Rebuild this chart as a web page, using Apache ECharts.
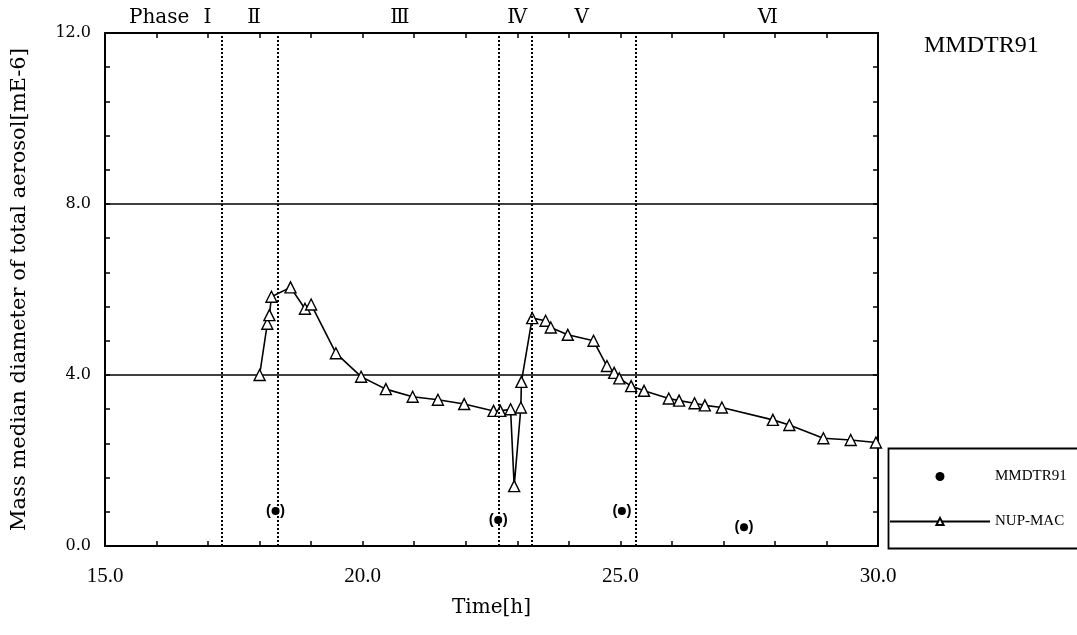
<!DOCTYPE html>
<html>
<head>
<meta charset="utf-8">
<script src="https://cdn.jsdelivr.net/npm/echarts@6/dist/echarts.min.js"></script>
<style>
html,body{margin:0;padding:0;background:#fff;}
#chart{width:1077px;height:635px;}
</style>
</head>
<body>
<div id="chart"></div>
<script>
// ---- data ----
var nupTime  = [18.0, 18.15, 18.19, 18.23, 18.6, 18.88, 19.0, 19.48, 19.97, 20.45, 20.97, 21.46, 21.97, 22.54, 22.67, 22.87, 22.94, 23.07, 23.08, 23.29, 23.55, 23.65, 23.98, 24.48, 24.74, 24.88, 24.98, 25.21, 25.46, 25.94, 26.14, 26.44, 26.64, 26.97, 27.96, 28.28, 28.94, 29.47, 29.96];
var nupValue = [4.0, 5.2, 5.4, 5.83, 6.05, 5.55, 5.65, 4.51, 3.96, 3.67, 3.49, 3.42, 3.32, 3.16, 3.16, 3.2, 1.4, 3.24, 3.84, 5.33, 5.27, 5.11, 4.94, 4.8, 4.21, 4.05, 3.92, 3.74, 3.63, 3.45, 3.4, 3.34, 3.29, 3.24, 2.95, 2.83, 2.52, 2.48, 2.42];
var mmdTime  = [18.31, 22.63, 25.03, 27.4];
var mmdValue = [0.82, 0.61, 0.82, 0.44];
var phaseBounds = [17.26, 18.35, 22.65, 23.28, 25.29];
var phaseLabels = ['Phase', 'Ⅰ', 'Ⅱ', 'Ⅲ', 'Ⅳ', 'Ⅴ', 'Ⅵ'];
var phaseLabelX = [16.05, 16.99, 17.89, 20.72, 23.0, 24.25, 27.86];
var seriesNames = ['MMDTR91', 'NUP-MAC'];
var xRange = [15, 30];
var yRange = [0, 12];

function zip(a, b) { return a.map(function (v, i) { return [v, b[i]]; }); }

var serif = '"DejaVu Serif", serif';
var times = '"Liberation Serif", "Times New Roman", serif';

var chart = echarts.init(document.getElementById('chart'), null, {renderer: 'canvas'});

function xAxisDef(pos, labels) {
  return {
    type: 'value', position: pos, min: xRange[0], max: xRange[1], interval: 5,
    axisLine: {show: true, onZero: false, lineStyle: {color: '#000', width: 2}},
    axisTick: {show: true, inside: true, length: 5, lineStyle: {color: '#000', width: 1.5}},
    minorTick: {show: true, splitNumber: 5, length: 5, lineStyle: {color: '#000', width: 1.5}},
    splitLine: {show: false},
    axisLabel: {show: labels, margin: 20, color: '#000', fontFamily: times, fontSize: 21,
      formatter: function (v) { return v.toFixed(1); }},
    name: labels ? 'Time[h]' : '', nameLocation: 'middle', nameGap: 52,
    nameTextStyle: {color: '#000', fontFamily: serif, fontSize: 20}
  };
}
function yAxisDef(pos, labels) {
  return {
    type: 'value', position: pos, min: yRange[0], max: yRange[1], interval: 4,
    axisLine: {show: true, onZero: false, lineStyle: {color: '#000', width: 2}},
    axisTick: {show: true, inside: true, length: 5, lineStyle: {color: '#000', width: 1.5}},
    minorTick: {show: true, splitNumber: 5, length: 5, lineStyle: {color: '#000', width: 1.5}},
    splitLine: {show: labels, lineStyle: {color: '#000', width: 1.6, type: 'solid'}},
    axisLabel: {show: labels, margin: 14, color: '#000', fontFamily: serif, fontSize: 16,
      formatter: function (v) { return v.toFixed(1); }},
    name: labels ? 'Mass median diameter of total aerosol[mE-6]' : '', nameLocation: 'middle', nameGap: 75,
    nameTextStyle: {color: '#000', fontFamily: serif, fontSize: 21}
  };
}

var option = {
  backgroundColor: '#fff',
  animation: false,
  grid: {left: 105, right: 199, top: 33, bottom: 89, containLabel: false, outerBoundsMode: 'none'},
  title: {
    text: 'MMDTR91', left: 919, top: 29,
    textStyle: {color: '#000', fontFamily: times, fontWeight: 'normal', fontSize: 24}
  },
  xAxis: [xAxisDef('bottom', true), xAxisDef('top', false)],
  yAxis: [yAxisDef('left', true), yAxisDef('right', false)],
  legend: {
    data: seriesNames, orient: 'vertical', left: 884, top: 464,
    itemWidth: 100, itemHeight: 9, itemGap: 30,
    textStyle: {color: '#000', fontFamily: times, fontSize: 15}
  },
  graphic: [{
    type: 'rect', left: 886, top: 446, z: 0,
    shape: {width: 200, height: 100},
    style: {fill: 'none', stroke: '#000', lineWidth: 1.8}
  }],
  series: [
    {
      name: seriesNames[0], type: 'scatter', data: zip(mmdTime, mmdValue),
      symbol: 'circle', symbolSize: 8,
      itemStyle: {color: '#000', opacity: 1},
      label: {show: true, position: 'inside', formatter: '(\u2009\u2009\u2009)', color: '#000',
        fontFamily: '"Liberation Sans", sans-serif', fontWeight: 'bold', fontSize: 15}
    },
    {
      name: seriesNames[1], type: 'line', data: zip(nupTime, nupValue),
      symbol: 'triangle', symbolSize: 11, showAllSymbol: true,
      lineStyle: {color: '#000', width: 1.6},
      itemStyle: {color: '#fff', borderColor: '#000', borderWidth: 1.4},
      markLine: {
        silent: true, symbol: ['none', 'none'], label: {show: false},
        lineStyle: {color: '#000', width: 2, type: [2, 2]},
        data: phaseBounds.map(function (v) { return {xAxis: v}; })
      },
      z: 3
    },
    {
      name: 'phase', type: 'scatter', data: phaseLabelX.map(function (v) { return [v, yRange[1]]; }),
      symbolSize: 0, itemStyle: {color: '#000', opacity: 1}, silent: true,
      label: {show: true, position: 'top', distance: 5, color: '#000', fontFamily: serif, fontSize: 20,
        formatter: function (p) { return phaseLabels[p.dataIndex]; }}
    }
  ]
};
chart.setOption(option);
</script>
</body>
</html>
